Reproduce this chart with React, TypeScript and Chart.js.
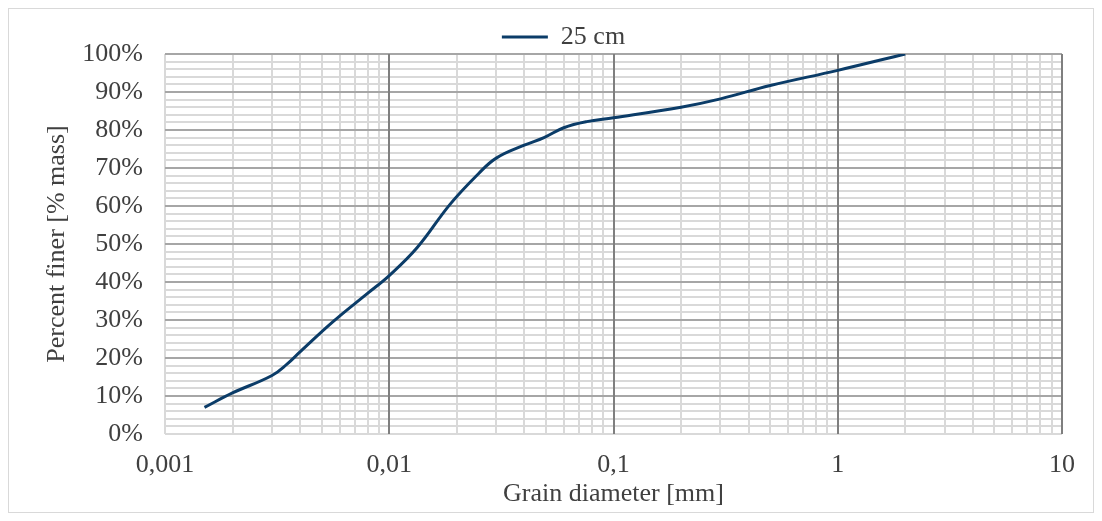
import React, { useEffect, useRef } from "react";
import { Chart, registerables } from "chart.js";

Chart.register(...registerables);

const diameters = [0.0015, 0.002, 0.003, 0.0035, 0.004, 0.0056, 0.008, 0.01, 0.0133, 0.0187, 0.025, 0.03, 0.04, 0.049, 0.06, 0.076, 0.1, 0.2, 0.3, 0.5, 1, 2];
const percentFiner = [7, 10.8, 15.4, 18.4, 21.6, 29.5, 37, 41.7, 49, 60.5, 68.5, 72.6, 76, 78, 80.6, 82.2, 83.2, 86, 88.2, 91.7, 95.7, 100];
const seriesLabel = "25 cm";
const decades = [0.001, 0.01, 0.1, 1, 10];
const decadeLabels = ["0,001", "0,01", "0,1", "1", "10"];
const minorMultipliers = [1, 2, 3, 4, 5, 6, 7, 8, 9];

const FONT = "'Liberation Serif', 'Times New Roman', serif";
const TEXT = "#404040";

export default function App() {
  const ref = useRef<HTMLCanvasElement | null>(null);
  useEffect(() => {
    if (!ref.current) return;
    const gridValues: number[] = [];
    for (let i = 0; i < decades.length - 1; i++) {
      for (const m of minorMultipliers) gridValues.push(parseFloat((decades[i] * m).toPrecision(6)));
    }
    gridValues.push(decades[decades.length - 1]);

    const legendShift = {
      id: "legendShift",
      afterLayout(chart: any) {
        const dx = 13;
        const dy = 6;
        if (chart.legend) {
          chart.legend.left += dx;
          chart.legend.right += dx;
          chart.legend.top += dy;
          chart.legend.bottom += dy;
        }
      },
    };

    const chart = new Chart(ref.current, {
      type: "line",
      data: {
        datasets: [
          {
            label: seriesLabel,
            data: diameters.map((d, i) => ({ x: d, y: percentFiner[i] })),
            borderColor: "#0b3c68",
            backgroundColor: "#0b3c68",
            borderWidth: 3,
            pointRadius: 0,
            pointStyle: "line",
            tension: 0.4,
          },
        ],
      },
      options: {
        animation: false,
        responsive: true,
        maintainAspectRatio: false,
        layout: { padding: { left: 30, right: 31, top: 7, bottom: 0 } },
        plugins: {
          legend: {
            position: "top",
            labels: {
              usePointStyle: true,
              pointStyleWidth: 46,
              color: TEXT,
              font: { family: FONT, size: 26 },
              padding: 2,
            },
          },
          tooltip: { enabled: false },
        },
        scales: {
          x: {
            type: "logarithmic",
            min: 0.001,
            max: 10,
            afterBuildTicks: (scale: any) => {
              scale.ticks = gridValues.map((v) => ({ value: v }));
            },
            afterFit: (scale: any) => {
              scale.height = 78;
            },
            ticks: {
              autoSkip: false,
              maxRotation: 0,
              padding: 16,
              color: TEXT,
              font: { family: FONT, size: 26 },
              callback: (v: any) => {
                const idx = decades.findIndex((d) => Math.abs(d - Number(v)) / d < 1e-6);
                return idx >= 0 ? decadeLabels[idx] : "";
              },
            },
            grid: {
              drawTicks: false,
              lineWidth: 2,
              color: "#d9d9d9",
            },
            border: { display: false },
            title: {
              display: true,
              text: "Grain diameter [mm]",
              color: TEXT,
              font: { family: FONT, size: 26, lineHeight: 1.2 },
              padding: { top: 0, bottom: 2 },
            },
          },
          y: {
            type: "linear",
            min: 0,
            max: 100,
            afterFit: (scale: any) => {
              scale.width = 126;
            },
            ticks: {
              stepSize: 2,
              autoSkip: false,
              padding: 22,
              color: TEXT,
              font: { family: FONT, size: 26 },
              callback: (v: any) => (Math.round(Number(v)) % 10 === 0 ? Math.round(Number(v)) + "%" : ""),
            },
            grid: {
              drawTicks: false,
              lineWidth: 2,
              color: (ctx: any) => {
                const v = ctx.tick ? Math.round(ctx.tick.value) : 0;
                if (v === 0) return "#d9d9d9";
                return v % 10 === 0 ? "#a6a6a6" : "#d9d9d9";
              },
            },
            border: { display: false },
            title: {
              display: true,
              text: "Percent finer [% mass]",
              color: TEXT,
              font: { family: FONT, size: 26, lineHeight: 1.2 },
              padding: { top: 3, bottom: 0 },
            },
          },
          xDecades: {
            type: "logarithmic",
            position: "bottom",
            min: 0.001,
            max: 10,
            afterBuildTicks: (scale: any) => {
              scale.ticks = decades.slice(1).map((v) => ({ value: v }));
            },
            afterFit: (scale: any) => {
              scale.height = 0;
            },
            ticks: { display: false },
            grid: {
              drawTicks: false,
              lineWidth: 2,
              color: "#7f7f7f",
            },
            border: { display: false },
          },
        },
      },
      plugins: [legendShift],
    });
    return () => chart.destroy();
  }, []);

  return (
    <div style={{ width: 1086, height: 505, border: "1px solid #d9d9d9", boxSizing: "border-box", background: "#fff" }}>
      <div style={{ position: "relative", width: 1084, height: 503 }}>
        <canvas ref={ref} />
      </div>
    </div>
  );
}
